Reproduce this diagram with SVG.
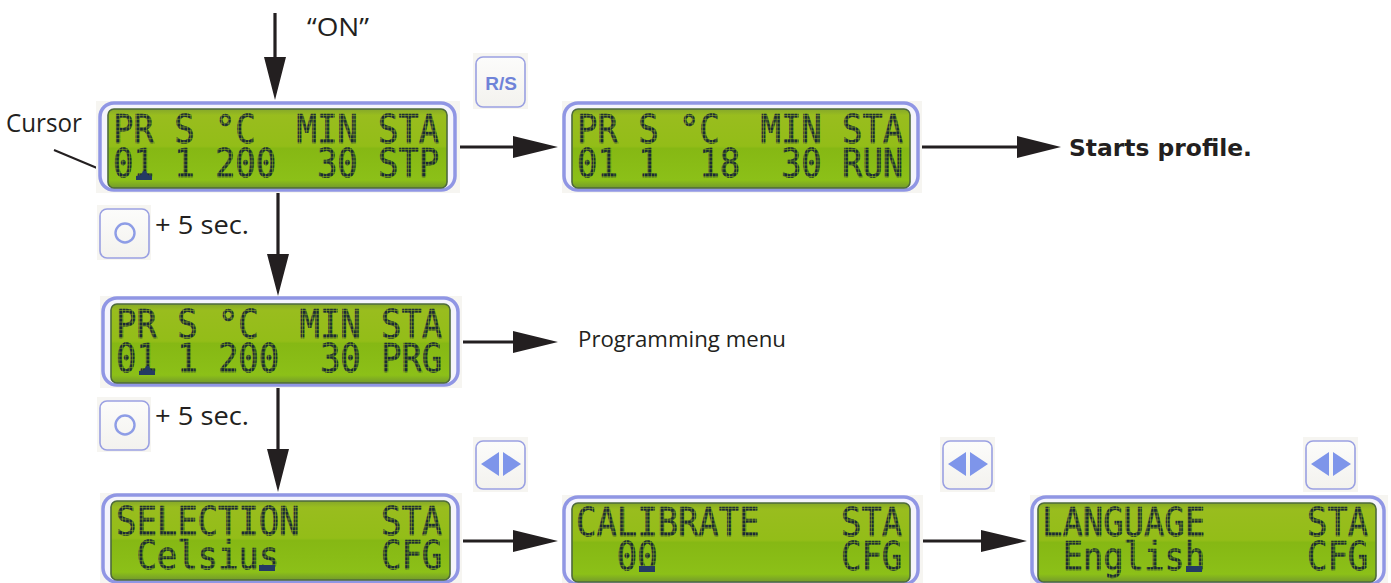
<svg xmlns="http://www.w3.org/2000/svg" width="1391" height="583" viewBox="0 0 1391 583">
<style>
.lab{font-family:"Open Sans","Noto Sans",sans-serif;font-size:25px;fill:#231f20}
.lcdt{font-family:"DejaVu Sans Mono",monospace;font-size:34px;letter-spacing:-.07px;white-space:pre;fill:url(#dots);stroke:url(#dots);stroke-width:.5}
.bg{fill:#f6f5f1}
.bez{fill:#f4f4fc;stroke:#9096e4;stroke-width:3.5}
.mid{fill:#8a8fdc}
.inner{fill:url(#green);stroke:#4e6a3c;stroke-width:1.6}
.btn{fill:url(#btnf);stroke:#9aa0e2;stroke-width:1.6}
.sym{fill:#7e95ea}
.ring{fill:none;stroke:#8e9de6;stroke-width:2.4}
.cur{fill:#243a63}
.ln{fill:none;stroke:#231f20;stroke-width:3.2}
.ln2{fill:none;stroke:#231f20;stroke-width:2}
.hd{fill:#231f20}
</style>
<defs>
<linearGradient id="green" x1="0" y1="0" x2="0" y2="1">
<stop offset="0" stop-color="#86a82a"/><stop offset=".08" stop-color="#99bd1e"/><stop offset=".47" stop-color="#93bd18"/><stop offset=".5" stop-color="#86b814"/><stop offset=".9" stop-color="#8cc018"/><stop offset="1" stop-color="#739a2c"/>
</linearGradient>
<linearGradient id="btnf" x1="0" y1="0" x2="0" y2="1">
<stop offset="0" stop-color="#fcfcfb"/><stop offset="1" stop-color="#f3f2ee"/>
</linearGradient>
<pattern id="dots" width="3.4" height="3.4" patternUnits="userSpaceOnUse">
<rect width="2.9" height="2.9" fill="#1c2a34"/>
</pattern>
</defs>
<g id="connectors">
<path class="ln" d="M275 13V60M278 193V255M278 388V450M460 147H516M922 147H1020M463 342H516M463 541H516M923 541H985"/>
<path class="ln2" d="M54 150L97 168"/>
<path class="hd" d="M264 57H286L275 100ZM267 254H289L278 296ZM267 449H289L278 492ZM513 136L558 147L513 158ZM1017 136L1061 147L1017 158ZM513 331L558 342L513 353ZM513 530L558 541L513 552ZM981 530L1027 541L981 552Z"/>
</g>
<g id="lcd-stop">
<rect class="bg" x="96" y="101" width="364" height="92"/><rect class="bez" x="100" y="103" width="355" height="87" rx="14"/><rect class="inner" x="108" y="109" width="339" height="79" rx="6"/>
<text class="lcdt" transform="translate(113 143) scale(1 1.14)">PR S °C  MIN STA</text>
<text class="lcdt" transform="translate(113 177) scale(1 1.14)">01 1 200  30 STP</text>
<path class="cur" d="M136 180V176L141 175L143 171H146L148 175L152 176V180Z"/>
</g>
<g id="lcd-run">
<rect class="bg" x="562" y="101" width="360" height="92"/><rect class="bez" x="564" y="103" width="354" height="87" rx="14"/><rect class="inner" x="572" y="109" width="338" height="79" rx="6"/>
<text class="lcdt" transform="translate(577 143) scale(1 1.14)">PR S °C  MIN STA</text>
<text class="lcdt" transform="translate(577 177) scale(1 1.14)">01 1  18  30 RUN</text>
</g>
<g id="lcd-prg">
<rect class="bg" x="100" y="296" width="362" height="92"/><rect class="bez" x="103" y="298" width="355" height="87" rx="14"/><rect class="inner" x="111" y="304" width="339" height="79" rx="6"/>
<text class="lcdt" transform="translate(116 338) scale(1 1.14)">PR S °C  MIN STA</text>
<text class="lcdt" transform="translate(116 372) scale(1 1.14)">01 1 200  30 PRG</text>
<path class="cur" d="M139 375V371L144 370L146 366H149L151 370L155 371V375Z"/>
</g>
<g id="lcd-selection">
<rect class="bg" x="100" y="493" width="362" height="90"/><rect class="bez" x="103" y="495" width="355" height="87" rx="14"/><rect class="inner" x="111" y="501" width="339" height="79" rx="6"/>
<text class="lcdt" transform="translate(116 535) scale(1 1.14)">SELECTION    STA</text>
<text class="lcdt" transform="translate(116 569) scale(1 1.14)"> Celsius     CFG</text>
<rect class="cur" x="259" y="565" width="16" height="6"/>
</g>
<g id="lcd-calibrate">
<rect class="bg" x="562" y="495" width="361" height="88"/><rect class="bez" x="564" y="497" width="354" height="87" rx="14"/><rect class="inner" x="572" y="503" width="338" height="79" rx="6"/>
<text class="lcdt" transform="translate(576 536) scale(1 1.14)">CALIBRATE    STA</text>
<text class="lcdt" transform="translate(576 570) scale(1 1.14)">  00         CFG</text>
<rect class="cur" x="639" y="566" width="16" height="6"/>
</g>
<g id="lcd-language">
<rect class="bg" x="1030" y="495" width="358" height="88"/><rect class="bez" x="1032" y="497" width="352" height="87" rx="14"/><rect class="inner" x="1038" y="503" width="338" height="79" rx="6"/>
<text class="lcdt" transform="translate(1042 536) scale(1 1.14)">LANGUAGE     STA</text>
<text class="lcdt" transform="translate(1042 570) scale(1 1.14)"> English     CFG</text>
<rect class="cur" x="1186" y="566" width="16" height="6"/>
</g>
<g id="btn-rs">
<rect class="bg" x="473" y="53" width="55" height="56"/><rect class="btn" x="476" y="57" width="49" height="50" rx="7"/>
<text x="501" y="90" text-anchor="middle" style="font-family:'Liberation Sans',sans-serif;font-weight:700;font-size:19px;fill:#6f83d8">R/S</text>
</g>
<g id="btn-o1">
<rect class="bg" x="97" y="205" width="54" height="55"/><rect class="btn" x="100" y="209" width="49" height="49" rx="7"/><circle class="ring" cx="125" cy="233" r="9.5"/>
</g>
<g id="btn-o2">
<rect class="bg" x="97" y="397" width="54" height="55"/><rect class="btn" x="100" y="401" width="49" height="49" rx="7"/><circle class="ring" cx="125" cy="425" r="9.5"/>
</g>
<g id="btn-lr1">
<rect class="bg" x="473" y="437" width="55" height="55"/><rect class="btn" x="476" y="441" width="49" height="48" rx="7"/><path class="sym" d="M499 452V476L481 464ZM503 452L521 464L503 476Z"/>
</g>
<g id="btn-lr2">
<rect class="bg" x="940" y="437" width="55" height="55"/><rect class="btn" x="943" y="441" width="49" height="48" rx="7"/><path class="sym" d="M966 452V476L948 464ZM970 452L988 464L970 476Z"/>
</g>
<g id="btn-lr3">
<rect class="bg" x="1303" y="437" width="55" height="55"/><rect class="btn" x="1306" y="441" width="49" height="48" rx="7"/><path class="sym" d="M1329 452V476L1311 464ZM1333 452L1351 464L1333 476Z"/>
</g>
<g id="labels">
<text class="lab" x="307" y="36" textLength="62" lengthAdjust="spacingAndGlyphs">“ON”</text>
<text class="lab" x="6" y="132" textLength="76" lengthAdjust="spacingAndGlyphs">Cursor</text>
<text class="lab" x="155" y="234" textLength="94" lengthAdjust="spacingAndGlyphs">+ 5 sec.</text>
<text class="lab" x="155" y="425" textLength="94" lengthAdjust="spacingAndGlyphs">+ 5 sec.</text>
<text class="lab" x="578" y="347" style="font-size:22px" textLength="208" lengthAdjust="spacingAndGlyphs">Programming menu</text>
<text x="1069" y="156" textLength="183" lengthAdjust="spacingAndGlyphs" style="font-family:'DejaVu Sans',sans-serif;font-weight:700;font-size:23px;fill:#231f20">Starts profile.</text>
</g>
</svg>
